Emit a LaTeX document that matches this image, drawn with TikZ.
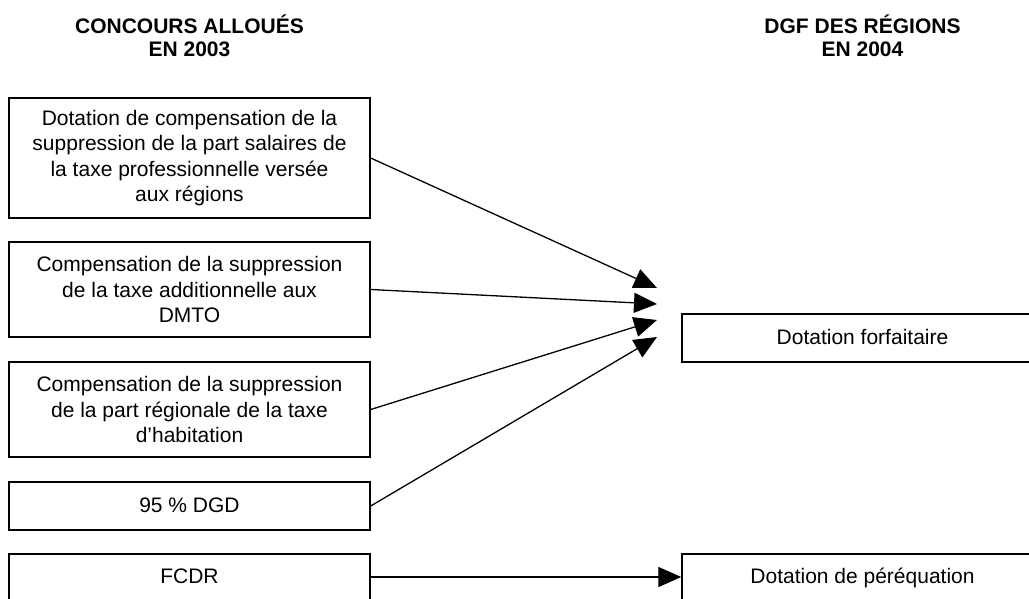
\documentclass[tikz,border=0pt]{standalone}
\usepackage{fontspec}
\setmainfont{Liberation Sans}
\usetikzlibrary{arrows.meta, positioning}
\tikzset{
  headtext/.style={
    align=center, inner sep=0pt,
    font=\fontsize{10.5}{11.5}\selectfont\bfseries
  },
  baseblock/.style={
    rectangle, draw=black, line width=0.7pt,
    minimum width=180.5pt, inner sep=2pt,
    align=center, font=\fontsize{10.5}{12.7}\selectfont
  },
  srcblock/.style={baseblock},
  dgfblock/.style={baseblock},
  oneline/.style={text height=1.6ex, text depth=0.45ex},
  flowline/.style={
    draw=black, line width=0.65pt, -{Triangle[length=11.5pt, width=10pt]}
  }
}

\begin{document}
\begin{tikzpicture}[x=0.5pt, y=-0.5pt]
  \useasboundingbox (0,0) rectangle (1029,599);

  % Column headings
  \node[headtext] (hsrc) at (189.5,36) {CONCOURS ALLOUÉS\\EN 2003};
  \node[headtext] (hdgf) at (862.5,36) {DGF DES RÉGIONS\\EN 2004};

  % Concours 2003 (left column)
  \node[srcblock, minimum height=60pt] (tp) at (189.5,158) {
    Dotation de compensation de la\\
    suppression de la part salaires de\\
    la taxe professionnelle versée\\
    aux régions
  };
  \node[srcblock, minimum height=47.5pt, below=11.3pt of tp] (dmto) {
    Compensation de la suppression\\
    de la taxe additionnelle aux\\
    DMTO
  };
  \node[srcblock, minimum height=47.5pt, below=11.8pt of dmto] (th) {
    Compensation de la suppression\\
    de la part régionale de la taxe\\
    d’habitation
  };
  \node[srcblock, oneline, minimum height=24pt, below=11.8pt of th] (dgd) {95 \% DGD};
  \node[srcblock, oneline, minimum height=23pt, below=11.3pt of dgd] (fcdr) {FCDR};

  % DGF 2004 (right column)
  \node[dgfblock, oneline, minimum height=24pt] (forf) at (862.5,338) {Dotation forfaitaire};
  \node[dgfblock, oneline, minimum height=23pt] (pereq) at (fcdr -| forf) {Dotation de péréquation};

  % Arrow heads in front of the forfaitaire box
  \coordinate (tipa) at (657,288);
  \coordinate (tipb) at (657,304);
  \coordinate (tipc) at (657,320);
  \coordinate (tipd) at (657,337);

  % Flows
  \draw[flowline] (tp.east) -- (tipa);
  \draw[flowline] (dmto.east) -- (tipb);
  \draw[flowline] (th.east) -- (tipc);
  \draw[flowline] (dgd.east) -- (tipd);
  \draw[flowline] (fcdr) -- (pereq);
\end{tikzpicture}
\end{document}
